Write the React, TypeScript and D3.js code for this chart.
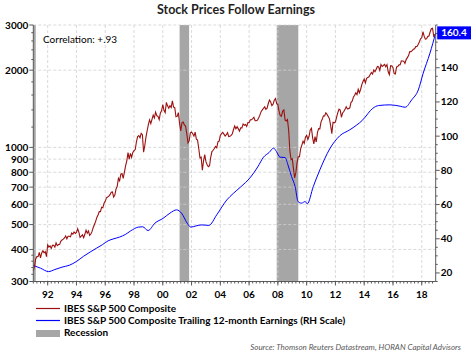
import React from "react";
import * as d3 from "d3";

// S&P 500 composite, month-end values starting Dec 1990
const priceStart = 1991.0;
const priceValues = [
  330.2,
  343.9, 367.1, 375.2, 375.3, 389.8, 371.2, 387.8, 395.4, 387.9, 392.5, 375.2, 417.1,
  408.8, 412.7, 403.7, 414.9, 415.4, 408.1, 424.2, 414.0, 417.8, 418.7, 431.4, 435.7,
  438.8, 443.4, 451.7, 440.2, 450.2, 450.5, 448.1, 463.6, 458.9, 467.8, 461.8, 466.5,
  481.6, 467.1, 445.8, 450.9, 456.5, 444.3, 458.3, 475.5, 462.7, 472.4, 454.0, 459.3,
  470.4, 487.4, 500.7, 514.7, 533.4, 544.8, 562.1, 561.9, 584.4, 581.5, 605.4, 615.9,
  636.0, 640.4, 645.5, 654.2, 669.1, 670.6, 639.9, 652.0, 687.3, 705.3, 757.0, 740.7,
  786.2, 790.8, 757.1, 801.3, 848.3, 885.1, 954.3, 899.5, 947.3, 914.6, 955.4, 970.4,
  980.3, 1049.3, 1101.8, 1111.8, 1090.8, 1133.8, 1120.7, 957.3, 1017.0, 1098.7, 1163.6, 1229.2,
  1279.6, 1238.3, 1286.4, 1335.2, 1301.8, 1372.7, 1328.7, 1320.4, 1282.7, 1362.9, 1388.9, 1469.3,
  1394.5, 1366.4, 1498.6, 1452.4, 1420.6, 1454.6, 1430.8, 1517.7, 1436.5, 1429.4, 1315.2, 1320.3,
  1366.0, 1239.9, 1160.3, 1249.5, 1255.8, 1224.4, 1211.2, 1133.6, 1040.9, 1059.8, 1139.5, 1148.1,
  1130.2, 1106.7, 1147.4, 1076.9, 1067.1, 989.8, 911.6, 916.1, 815.3, 885.8, 936.3, 879.8,
  855.7, 841.2, 848.2, 916.9, 963.6, 974.5, 990.3, 1008.0, 996.0, 1050.7, 1058.2, 1111.9,
  1131.1, 1144.9, 1126.2, 1107.3, 1120.7, 1140.8, 1101.7, 1104.2, 1114.6, 1130.2, 1173.8, 1211.9,
  1181.3, 1203.6, 1180.6, 1156.9, 1191.5, 1191.3, 1234.2, 1220.3, 1228.8, 1207.0, 1249.5, 1248.3,
  1280.1, 1280.7, 1294.9, 1310.6, 1270.1, 1270.2, 1276.7, 1303.8, 1335.9, 1377.9, 1400.6, 1418.3,
  1438.2, 1406.8, 1420.9, 1482.4, 1530.6, 1503.4, 1455.3, 1474.0, 1526.8, 1549.4, 1481.1, 1468.4,
  1378.6, 1330.6, 1322.7, 1385.6, 1400.4, 1280.0, 1267.4, 1282.8, 1166.4, 968.8, 896.2, 903.3,
  825.9, 760.1, 797.9, 872.8, 919.1, 919.3, 987.5, 1020.6, 1057.1, 1036.2, 1095.6, 1115.1,
  1073.9, 1104.5, 1169.4, 1186.7, 1089.4, 1030.7, 1101.6, 1049.3, 1141.2, 1183.3, 1180.6, 1257.6,
  1286.1, 1327.2, 1325.8, 1363.6, 1345.2, 1320.6, 1292.3, 1218.9, 1131.4, 1253.3, 1247.0, 1257.6,
  1312.4, 1365.7, 1408.5, 1397.9, 1310.3, 1362.2, 1379.3, 1406.6, 1440.7, 1412.2, 1416.2, 1426.2,
  1498.1, 1514.7, 1569.2, 1597.6, 1630.7, 1606.3, 1685.7, 1633.0, 1681.6, 1756.5, 1805.8, 1848.4,
  1782.6, 1859.5, 1872.3, 1884.0, 1923.6, 1960.2, 1930.7, 2003.4, 1972.3, 2018.1, 2067.6, 2058.9,
  1995.0, 2104.5, 2067.9, 2085.5, 2107.4, 2063.1, 2103.8, 1972.2, 1920.0, 2079.4, 2080.4, 2043.9,
  1940.2, 1932.2, 2059.7, 2065.3, 2097.0, 2098.9, 2173.6, 2171.0, 2168.3, 2126.2, 2199.0, 2238.8,
  2278.9, 2363.6, 2362.7, 2384.2, 2411.8, 2423.4, 2470.3, 2471.7, 2519.4, 2575.3, 2647.6, 2673.6,
  2823.8, 2713.8, 2640.9, 2648.1, 2705.3, 2718.4, 2816.3, 2901.5, 2914.0, 2711.7, 2760.2,
];

// Trailing 12-month earnings (RH scale)
const epsDates = [
  1991.0, 1991.5, 1992.05, 1992.5, 1993.0, 1993.5, 1994.0, 1994.5, 1995.0, 1995.4,
  1995.8, 1996.2, 1996.6, 1997.0, 1997.4, 1997.75, 1998.3, 1998.6, 1998.98, 1999.45,
  2000.03, 2000.5, 2000.96, 2001.3, 2001.7, 2001.94, 2002.3, 2002.7, 2003.2, 2003.75,
  2004.45, 2004.9, 2005.4, 2006.1, 2006.6, 2007.0, 2007.4, 2007.7, 2007.9, 2008.15,
  2008.5, 2008.7, 2008.95, 2009.2, 2009.4, 2009.65, 2009.9, 2010.04, 2010.46, 2010.92,
  2011.6, 2012.3, 2013.0, 2013.9, 2014.6, 2015.0, 2015.8, 2016.5, 2016.85, 2017.3,
  2017.76, 2018.1, 2018.57, 2018.97,
];
const epsValues = [
  24.4, 22.8, 20.8, 22.0, 23.4, 24.5, 26.7, 29.8, 32.5, 34.5,
  36.5, 38.8, 40.0, 41.0, 42.5, 44.5, 46.8, 47.0, 44.8, 49.1,
  52.0, 55.0, 56.9, 55.0, 49.1, 46.8, 47.5, 48.1, 47.8, 54.0,
  62.7, 66.5, 70.2, 76.0, 82.0, 87.7, 90.5, 93.0, 91.0, 87.7,
  87.5, 83.2, 76.4, 70.5, 61.8, 60.8, 61.8, 60.4, 70.5, 80.3,
  92.5, 100.2, 103.7, 109.5, 116.3, 117.9, 118.3, 117.5, 116.9, 121.2,
  127.0, 136.8, 148.5, 160.4,
];

const recessions = [
  [1990.5, 1991.17],
  [2001.17, 2001.83],
  [2007.92, 2009.42],
];

const leftTicks = [300, 400, 500, 600, 700, 800, 900, 1000, 2000, 3000];
const leftMinor = [320, 340, 360, 380, 1200, 1400, 1600, 1800, 2200, 2400, 2600, 2800];
const rightTicks = [20, 40, 60, 80, 100, 120, 140, 160];
const rightLabels = [20, 40, 60, 80, 100, 120, 140];
const xTickYears = [1992, 1994, 1996, 1998, 2000, 2002, 2004, 2006, 2008, 2010, 2012, 2014, 2016, 2018];
const xTickLabels = ["92", "94", "96", "98", "00", "02", "04", "06", "08", "10", "12", "14", "16", "18"];

const title = "Stock Prices Follow Earnings";
const lastLabel = "160.4";

const W = 471;
const H = 357;
const L = 33.3, R = 435.7, T = 25, B = 281.5;
const FONT = "Lato, 'Open Sans', sans-serif";

export default function App() {
  const x = d3.scaleLinear().domain([1991.0, 2018.97]).range([L, R]);
  const yL = d3.scaleLog().domain([300, 3000]).range([B, T]);
  const yR = d3.scaleLinear().domain([15, 165]).range([B, T]);

  const priceData = priceValues.map((v, i) => ({ t: priceStart + i / 12, v }));
  const epsData = epsDates.map((t, i) => ({ t, v: epsValues[i] }));

  const priceLine = d3
    .line<{ t: number; v: number }>()
    .x((d) => x(d.t))
    .y((d) => yL(d.v));
  const epsLine = d3
    .line<{ t: number; v: number }>()
    .x((d) => x(d.t))
    .y((d) => yR(d.v))
    .curve(d3.curveMonotoneX);

  const rightMinor = d3.range(15, 166, 5).filter((v) => v % 20 !== 0);
  const xMinor = d3.range(1991, 2019, 0.25);
  const lastY = yR(epsValues[epsValues.length - 1]);

  return (
    <svg width={W} height={H} style={{ position: "absolute", left: 0, top: 0, background: "#fff" }} fontFamily={FONT}>
      <rect x={0} y={0} width={W} height={H} fill="#fff" />
      <text x={236} y={14} textAnchor="middle" fontSize={12.5} fontWeight="bold" fill="#1f1f1f">
        {title}
      </text>

      {/* recession bars */}
      {recessions.map(([a, b], i) => {
        const x0 = Math.max(L, x(a));
        const x1 = x(b);
        return <rect key={i} x={x0} y={T} width={x1 - x0} height={B - T} fill="#a6a6a6" />;
      })}

      {/* gridlines */}
      {leftTicks.map((v) => (
        <line key={"gh" + v} x1={L} x2={R} y1={yL(v)} y2={yL(v)} stroke="#d0d0d0" strokeWidth={0.8} strokeDasharray="3,2" />
      ))}
      {xTickYears.map((t) => (
        <line key={"gv" + t} x1={x(t)} x2={x(t)} y1={T} y2={B} stroke="#d0d0d0" strokeWidth={0.8} strokeDasharray="3,2" />
      ))}

      {/* series */}
      <path d={epsLine(epsData) || ""} fill="none" stroke="#0000ff" strokeWidth={1} />
      <path d={priceLine(priceData) || ""} fill="none" stroke="#9b1010" strokeWidth={1.1} />

      {/* left axis */}
      <line x1={L} x2={L} y1={T} y2={B} stroke="#595959" strokeWidth={1} />
      {leftTicks.map((v) => (
        <g key={"lt" + v}>
          <line x1={L - 4} x2={L} y1={yL(v)} y2={yL(v)} stroke="#595959" />
          <text x={L - 5} y={yL(v) + 3.5} textAnchor="end" fontSize={10} fontWeight="bold" fill="#000">
            {v}
          </text>
        </g>
      ))}
      {leftMinor.map((v) => (
        <line key={"lm" + v} x1={L - 2} x2={L} y1={yL(v)} y2={yL(v)} stroke="#595959" />
      ))}

      {/* right axis */}
      <line x1={R} x2={R} y1={T} y2={B} stroke="#595959" strokeWidth={1} />
      {rightTicks.map((v) => (
        <line key={"rt" + v} x1={R} x2={R + 4} y1={yR(v)} y2={yR(v)} stroke="#595959" />
      ))}
      {rightLabels.map((v) => (
        <text key={"rl" + v} x={R + 5} y={yR(v) + 3.5} textAnchor="start" fontSize={10} fontWeight="bold" fill="#000">
          {v}
        </text>
      ))}
      {rightMinor.map((v) => (
        <line key={"rm" + v} x1={R} x2={R + 2} y1={yR(v)} y2={yR(v)} stroke="#595959" />
      ))}

      {/* bottom axis */}
      <line x1={L} x2={R} y1={B} y2={B} stroke="#595959" strokeWidth={1} />
      {xMinor.map((t) => (
        <line key={"xm" + t} x1={x(t)} x2={x(t)} y1={B} y2={B + 2} stroke="#595959" />
      ))}
      {xTickYears.map((t, i) => (
        <g key={"xt" + t}>
          <line x1={x(t)} x2={x(t)} y1={B} y2={B + 4} stroke="#595959" />
          <text x={x(t)} y={B + 16} textAnchor="middle" fontSize={10} fontWeight="bold" fill="#000">
            {xTickLabels[i]}
          </text>
        </g>
      ))}

      {/* last value label */}
      <rect x={R + 1.5} y={lastY - 6.5} width={W - R - 1.5} height={13} fill="#0000ff" />
      <text x={454} y={lastY + 3.5} textAnchor="middle" fontSize={10} fontWeight="bold" fill="#fff">
        {lastLabel}
      </text>

      {/* correlation note */}
      <text x={43} y={42.5} fontSize={10} fill="#000">
        Correlation: +.93
      </text>

      {/* legend */}
      <line x1={36} x2={60} y1={308.5} y2={308.5} stroke="#9b1010" strokeWidth={1.2} />
      <text x={64} y={312} fontSize={10} fontWeight="bold" fill="#000">IBES S&amp;P 500 Composite</text>
      <line x1={36} x2={60} y1={320.5} y2={320.5} stroke="#0000ff" strokeWidth={1.2} />
      <text x={64} y={324} fontSize={10} fontWeight="bold" fill="#000">IBES S&amp;P 500 Composite Trailing 12-month Earnings (RH Scale)</text>
      <rect x={36} y={330} width={24} height={7} fill="#a6a6a6" />
      <text x={64} y={336} fontSize={10} fontWeight="bold" fill="#000">Recession</text>

      {/* source */}
      <text x={461} y={350} textAnchor="end" fontSize={8} fontStyle="italic" fill="#595959">
        Source: Thomson Reuters Datastream, HORAN Capital Advisors
      </text>
    </svg>
  );
}
